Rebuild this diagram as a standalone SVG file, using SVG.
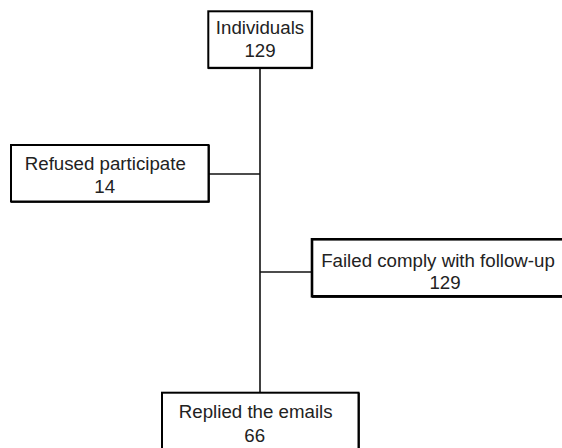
<svg xmlns="http://www.w3.org/2000/svg" width="562" height="448" viewBox="0 0 562 448">
<style>
.box{fill:#fff;stroke:#000;stroke-width:2}
.sh{fill:none;stroke:#000;stroke-width:1}
.t{font-family:"Liberation Sans",Arial,sans-serif;font-size:18.7px;fill:#222;text-anchor:middle}
.c{fill:none;stroke:#111;stroke-width:1.6}
</style>
<rect width="562" height="448" fill="#fff"/>
<g id="connectors">
<line class="c" x1="260" y1="68" x2="260" y2="392"/>
<line class="c" x1="209" y1="174" x2="260" y2="174"/>
<line class="c" x1="260" y1="272" x2="312" y2="272"/>
</g>
<g id="individuals">
<rect class="box" x="208.3" y="11.3" width="103.5" height="56.5"/>
<polyline class="sh" points="312.6,11 312.6,68.6 208,68.6"/>
<text class="t" x="260" y="34.3">Individuals</text>
<text class="t" x="260" y="56.7">129</text>
</g>
<g id="refused">
<rect class="box" x="11" y="145" width="197.5" height="56.5"/>
<polyline class="sh" points="209.3,145 209.3,202.3 11,202.3"/>
<text class="t" x="105.3" y="169.5">Refused participate</text>
<text class="t" x="104.7" y="192.5">14</text>
</g>
<g id="failed">
<rect class="box" x="312" y="239.3" width="260" height="57" style="stroke-width:2.6"/>
<line class="sh" x1="312" y1="297.3" x2="572" y2="297.3"/>
<text class="t" x="438" y="266.7">Failed comply with follow-up</text>
<text class="t" x="445" y="289.3">129</text>
</g>
<g id="replied">
<rect class="box" x="162" y="392.7" width="196.5" height="70"/>
<line class="sh" x1="359.3" y1="392.7" x2="359.3" y2="462"/>
<text class="t" x="255.7" y="418.3">Replied the emails</text>
<text class="t" x="254.7" y="441.7">66</text>
</g>
</svg>
